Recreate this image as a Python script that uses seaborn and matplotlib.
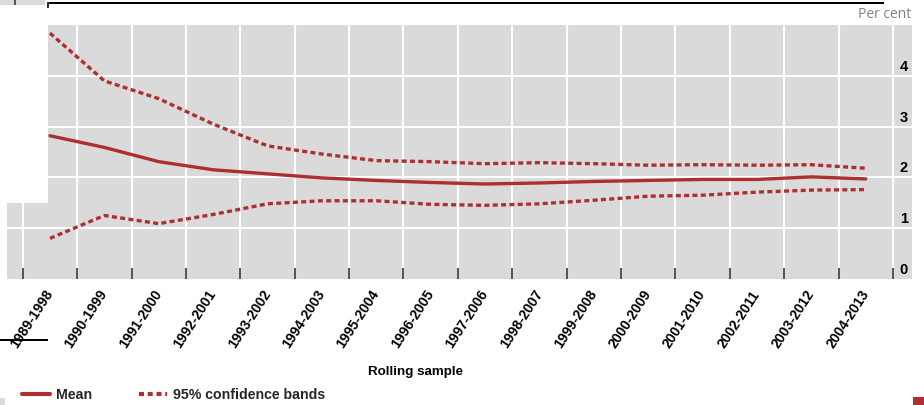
import numpy as np
import pandas as pd
import seaborn as sns
import matplotlib.pyplot as plt
from matplotlib.lines import Line2D
from matplotlib.patches import Rectangle

# Rolling 10-year samples
samples = ['1989-1998', '1990-1999', '1991-2000', '1992-2001', '1993-2002',
           '1994-2003', '1995-2004', '1996-2005', '1997-2006', '1998-2007',
           '1999-2008', '2000-2009', '2001-2010', '2002-2011', '2003-2012',
           '2004-2013']

mean = [2.82, 2.59, 2.31, 2.15, 2.07, 1.99, 1.94, 1.90, 1.87, 1.89,
        1.92, 1.94, 1.96, 1.96, 2.01, 1.97]
upper = [4.84, 3.90, 3.55, 3.05, 2.62, 2.46, 2.33, 2.31, 2.27, 2.29,
         2.27, 2.24, 2.25, 2.24, 2.25, 2.18]
lower = [0.80, 1.25, 1.09, 1.27, 1.48, 1.54, 1.54, 1.47, 1.45, 1.48,
         1.55, 1.63, 1.65, 1.71, 1.75, 1.76]

yticks = [0, 1, 2, 3, 4]

red = '#AE2F2F'
grey_bg = '#DADADA'

sns.set_theme(style='dark')
plt.rcParams['font.family'] = ['Liberation Sans', 'DejaVu Sans']

W, H = 924, 405
fig = plt.figure(figsize=(W / 100, H / 100), dpi=100)
ax = fig.add_axes([7 / W, (H - 279) / H, (912 - 7) / W, (279 - 25) / H])
ax.set_facecolor(grey_bg)

df = pd.DataFrame({'pos': np.arange(len(samples)), 'mean': mean,
                   'upper': upper, 'lower': lower})

sns.lineplot(data=df, x='pos', y='mean', ax=ax, color=red, lw=2.4, zorder=3)
sns.lineplot(data=df, x='pos', y='upper', ax=ax, color=red, lw=2.4, zorder=3,
             linestyle=(0, (1.5, 1.0)))
sns.lineplot(data=df, x='pos', y='lower', ax=ax, color=red, lw=2.4, zorder=3,
             linestyle=(0, (1.5, 1.0)))
for ln in ax.lines[1:]:
    ln.set_dash_capstyle('butt')

ax.set_xlim(-0.79, 15.85)
ax.set_ylim(0, 5)

# grid: horizontal at y ticks, vertical at category boundaries
for y in yticks[1:]:
    ax.axhline(y, color='white', lw=1.5, zorder=0.2)
bounds = np.arange(len(samples) + 1) - 0.5
for b in bounds:
    ax.axvline(b, color='white', lw=1.5, zorder=0.2)
ax.grid(False)

ax.set_xticks(np.arange(len(samples)))
ax.set_xticklabels(samples, rotation=57, ha='right', va='center',
                   rotation_mode='anchor', fontsize=10, fontweight='bold',
                   color='black')
ax.set_xticks(bounds, minor=True)
ax.tick_params(axis='x', which='major', length=0, pad=9)
ax.tick_params(axis='x', which='minor', length=8, width=1.3, color='#444444',
               direction='in', bottom=True)
ax.set_yticks([])
ax.set_xlabel('')
ax.set_ylabel('')
for s in ax.spines.values():
    s.set_visible(False)

for y in yticks:
    ax.text(0.991, y + 0.04, str(y), transform=ax.get_yaxis_transform(),
            ha='center', va='bottom', fontsize=10.5, fontweight='bold',
            color='black', zorder=4)

fig.text(885 / W, 1 - 15 / H, 'Per cent', ha='center', va='center',
         fontsize=10, color='#808080', family=['Open Sans', 'DejaVu Sans'])
fig.text(416 / W, 1 - 372 / H, 'Rolling sample', ha='center', va='center',
         fontsize=9.6, fontweight='bold', color='black')

handles = [Line2D([], [], color=red, lw=3),
           Line2D([], [], color=red, lw=3, linestyle=(0, (1.2, 0.9)))]
fig.legend(handles, ['Mean', '95% confidence bands'], ncol=2, frameon=False,
           loc='center left', bbox_to_anchor=(22 / W, 1 - 395 / H),
           prop={'size': 10.2, 'weight': 'bold'}, handlelength=2.0,
           handletextpad=0.4, columnspacing=3.3, borderaxespad=0,
           borderpad=0)

# cropping remnants of the source image
def px_rect(x0, y0, x1, y1, color, z=5):
    fig.patches.append(Rectangle((x0 / W, 1 - y1 / H), (x1 - x0) / W,
                                 (y1 - y0) / H, transform=fig.transFigure,
                                 facecolor=color, edgecolor='none', zorder=z))

px_rect(0, 0, 48, 203, 'white')
px_rect(0, 0, 45, 5, grey_bg)
px_rect(14, 0, 16, 5, '#555555')
px_rect(47, 2, 884, 4, 'black')
px_rect(47, 2, 48.5, 8, '#333333')
px_rect(0, 339, 48, 341, 'black')
px_rect(0, 398, 5, 405, grey_bg)
px_rect(913, 397, 924, 405, red)

fig.savefig('out.png', dpi=100)
